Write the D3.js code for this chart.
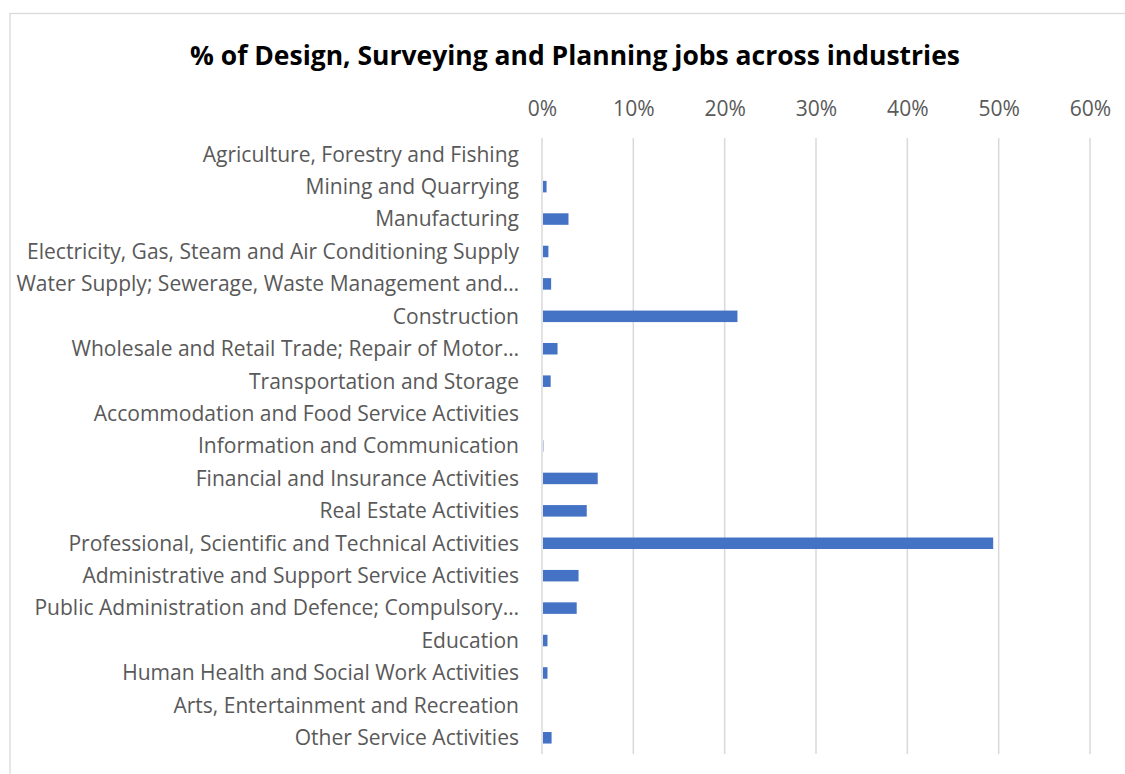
<!DOCTYPE html>
<html>
<head>
<meta charset="utf-8">
<script src="https://cdn.jsdelivr.net/npm/d3@7"></script>
<style>
  body { margin: 0; background: #fff; }
  text { font-family: "Open Sans", Lato, sans-serif; }
</style>
</head>
<body>
<div id="chart"></div>
<script>
// --- data
const chartTitle = "% of Design, Surveying and Planning jobs across industries";

const industries = [
  "Agriculture, Forestry and Fishing",
  "Mining and Quarrying",
  "Manufacturing",
  "Electricity, Gas, Steam and Air Conditioning Supply",
  "Water Supply; Sewerage, Waste Management and…",
  "Construction",
  "Wholesale and Retail Trade; Repair of Motor…",
  "Transportation and Storage",
  "Accommodation and Food Service Activities",
  "Information and Communication",
  "Financial and Insurance Activities",
  "Real Estate Activities",
  "Professional, Scientific and Technical Activities",
  "Administrative and Support Service Activities",
  "Public Administration and Defence; Compulsory…",
  "Education",
  "Human Health and Social Work Activities",
  "Arts, Entertainment and Recreation",
  "Other Service Activities"
];

// share of jobs (%)
const shares = [0, 0.5, 2.9, 0.7, 1.0, 21.4, 1.7, 0.95, 0, 0.15, 6.1, 4.9, 49.4, 4.0, 3.8, 0.6, 0.6, 0, 1.05];

const xTicks = [0, 10, 20, 30, 40, 50, 60];

// --- layout
const W = 1125, H = 774;
const plot = {left: 542, right: 1090, top: 138, bottom: 754};

const svg = d3.select("#chart").append("svg")
  .attr("width", W)
  .attr("height", H);

// chart frame (only left/top are visible in the window)
svg.append("rect")
  .attr("x", 10).attr("y", 13.5)
  .attr("width", W + 20).attr("height", H + 20)
  .attr("fill", "#fff")
  .attr("stroke", "#d9d9d9")
  .attr("stroke-width", 1.3);

let data = industries.map(function(d, i){ return {name: d, value: shares[i]}; });

let x = d3.scaleLinear()
  .domain([0, 60])
  .range([plot.left, plot.right]);

let pad = 0.645;
let y = d3.scaleBand()
  .domain(industries)
  .range([plot.top, plot.bottom])
  .paddingInner(pad)
  .paddingOuter(pad / 2);

// fit a font size so a text reaches the wanted width
function fitSize(str, weight, base, targetW){
  let t = svg.append("text")
    .attr("font-size", base + "px")
    .attr("font-weight", weight)
    .text(str);
  let w = t.node().getComputedTextLength();
  t.remove();
  return base * targetW / w;
}
let labelSize = fitSize(industries[12], "normal", 18, 451);
let titleSize = fitSize(chartTitle, "bold", 24, 770);

// gridlines
svg.append("g")
  .selectAll("line")
  .data(xTicks)
  .enter()
  .append("line")
  .attr("x1", function(d){ return x(d); })
  .attr("x2", function(d){ return x(d); })
  .attr("y1", plot.top)
  .attr("y2", plot.bottom)
  .attr("stroke", "#d9d9d9")
  .attr("stroke-width", 1.5);

// top axis labels
let xAxis = svg.append("g")
  .attr("transform", "translate(0," + 116 + ")")
  .call(d3.axisTop(x)
    .tickValues(xTicks)
    .tickFormat(function(d){ return d + "%"; })
    .tickSize(0)
    .tickPadding(0));
xAxis.select(".domain").remove();
xAxis.selectAll("text")
  .attr("font-family", "'Open Sans', Lato, sans-serif")
  .attr("font-size", labelSize + "px")
  .attr("fill", "#595959");

// bars
svg.append("g")
  .selectAll("rect")
  .data(data)
  .enter()
  .append("rect")
  .attr("x", x(0) + 1)
  .attr("y", function(d){ return y(d.name); })
  .attr("width", function(d){ return Math.max(0, x(d.value) - x(0) - 1); })
  .attr("height", y.bandwidth())
  .attr("fill", "#4472c4");

// category labels
svg.append("g")
  .selectAll("text")
  .data(data)
  .enter()
  .append("text")
  .attr("x", plot.left - 23)
  .attr("y", function(d){ return y(d.name) + y.bandwidth() / 2; })
  .attr("dy", "0.35em")
  .attr("text-anchor", "end")
  .attr("font-size", labelSize + "px")
  .attr("fill", "#595959")
  .text(function(d){ return d.name; });

// title
svg.append("text")
  .attr("x", 575)
  .attr("y", 65)
  .attr("text-anchor", "middle")
  .attr("font-size", titleSize + "px")
  .attr("font-weight", "bold")
  .attr("fill", "#000")
  .text(chartTitle);
</script>
</body>
</html>
